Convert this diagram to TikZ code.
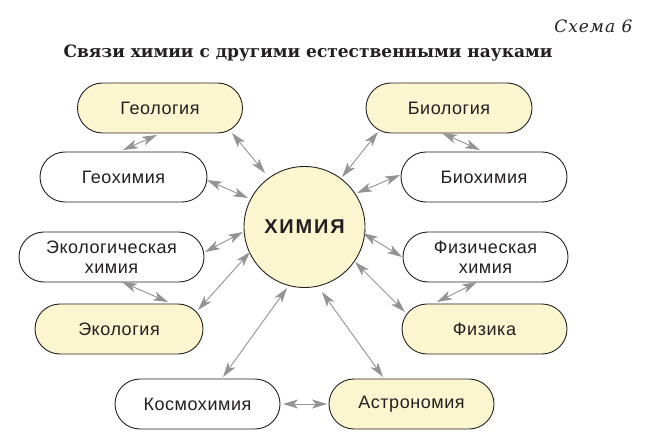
\documentclass[tikz,border=0pt]{standalone}
\usepackage{fontspec}
\setmainfont{DejaVu Serif}
\newfontfamily\nodefont[LetterSpace=3]{Liberation Sans}
\newfontfamily\chemfont[LetterSpace=9]{Liberation Sans}
\newfontfamily\numfont[LetterSpace=6]{DejaVu Serif}
\usetikzlibrary{arrows.meta,calc}
\definecolor{pale}{HTML}{FCF6D0}
\definecolor{arr}{HTML}{939393}
\definecolor{ink}{HTML}{231F20}
\begin{document}
\begin{tikzpicture}[x=1pt,y=-1pt,
 pill/.style={draw=ink, line width=0.9pt, rounded corners=25pt, minimum height=50pt, minimum width=165pt, inner sep=0pt, font=\nodefont\fontsize{18}{20}\selectfont, text=ink, align=center},
 yel/.style={pill, fill=pale},
 wht/.style={pill, fill=white},
 link/.style={draw=arr, line width=0.9pt, {Stealth[length=15pt,width=9pt,inset=4pt]}-{Stealth[length=15pt,width=9pt,inset=4pt]}}
]
\fill[white] (0,0) rectangle (647,443);
\useasboundingbox (0,0) rectangle (647,443);

\node[anchor=east, font=\numfont\itshape\fontsize{17}{20}\selectfont, text=ink] (num) at (636,26) {Схема 6};
\node[font=\bfseries\fontsize{17}{20}\selectfont, text=ink] (title) at (308,53) {Связи химии с другими естественными науками};

\node[circle, draw=ink, line width=0.9pt, fill=pale, minimum size=121pt, inner sep=0pt, font=\chemfont\bfseries\fontsize{20}{24}\selectfont, text=ink] (chem) at (304.5,227) {ХИМИЯ};

\node[yel] (geol) at (160,108) {Геология};
\node[wht, minimum width=167pt] (geoch) at (123.5,177) {Геохимия};
\node[wht, minimum width=185pt] (ecoch) at (111.5,257) {Экологическая\\химия};
\node[yel, minimum width=168pt] (eco) at (119,329) {Экология};
\node[wht] (cosmo) at (197.5,404) {Космохимия};
\node[yel] (astro) at (411.5,404) {Астрономия};
\node[yel] (phys) at (484.5,329) {Физика};
\node[wht] (physch) at (485.5,257) {Физическая\\химия};
\node[wht, minimum width=166pt] (bioch) at (484,177) {Биохимия};
\node[yel, minimum width=166pt] (bio) at (449,108) {Биология};

\draw[link] ($(geol)+(-3,27)$) -- ($(geoch)+(-0.5,-27)$);
\draw[link] ($(geol)+(72,25)$) -- ($(chem)+(-39.5,-54)$);
\draw[link] ($(geoch)+(83.5,3)$) -- ($(chem)+(-56.5,-29)$);
\draw[link] ($(ecoch)+(93.5,-5)$) -- ($(chem)+(-61.5,5)$);
\draw[link] ($(ecoch)+(10.5,25)$) -- ($(eco)+(49,-27)$);
\draw[link] ($(eco)+(79,-19)$) -- ($(chem)+(-54.5,25)$);
\draw[link] ($(cosmo)+(25.5,-27)$) -- ($(chem)+(-17.5,61)$);
\draw[link] ($(cosmo)+(85.5,0)$) -- ($(astro)+(-84.5,0)$);
\draw[link] ($(astro)+(-28.5,-27)$) -- ($(chem)+(17.5,65)$);
\draw[link] ($(phys)+(-79.5,-17)$) -- ($(chem)+(50.5,35)$);
\draw[link] ($(physch)+(-8.5,25)$) -- ($(phys)+(-47.5,-27)$);
\draw[link] ($(physch)+(-83.5,0)$) -- ($(chem)+(58.5,6)$);
\draw[link] ($(bio)+(-7,25)$) -- ($(bioch)+(-4,-27)$);
\draw[link] ($(bio)+(-71,24)$) -- ($(chem)+(37.5,-50)$);
\draw[link] ($(bioch)+(-84,-2)$) -- ($(chem)+(52.5,-34)$);
\end{tikzpicture}
\end{document}
